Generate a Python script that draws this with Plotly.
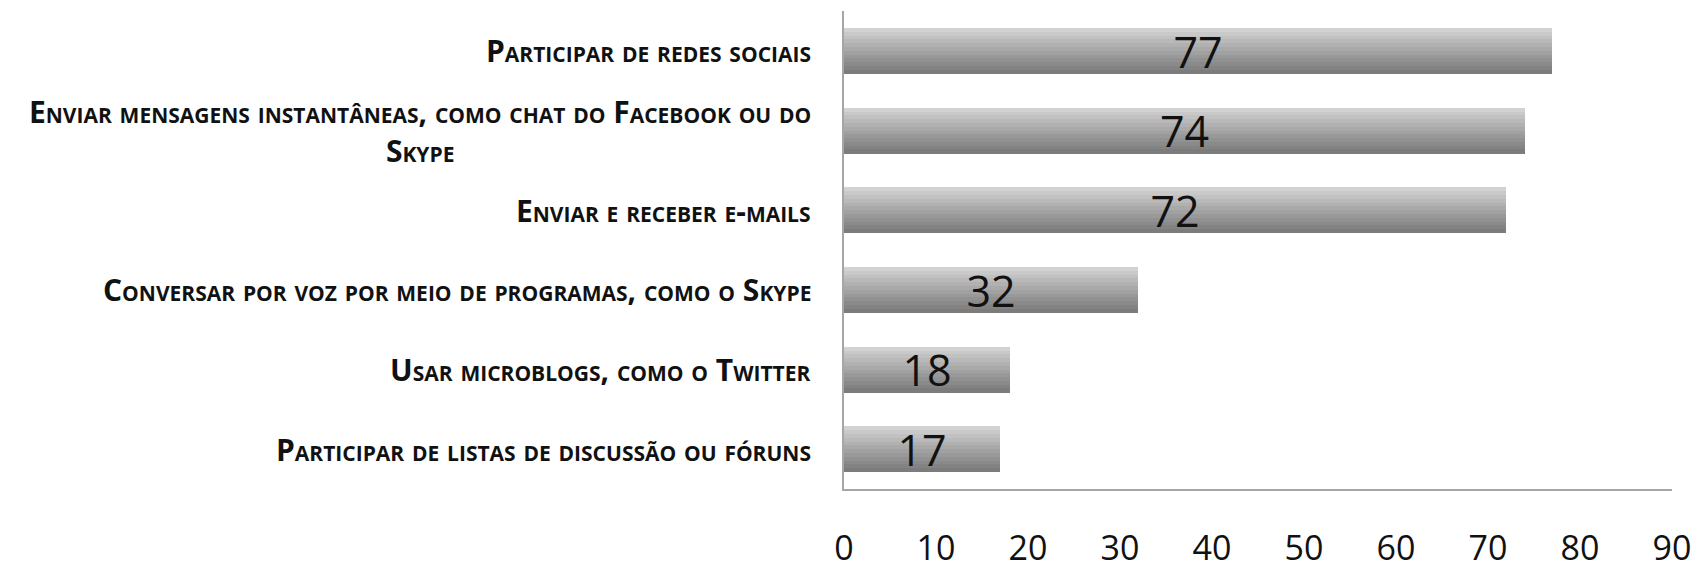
import plotly.graph_objects as go

# Data (top to bottom)
categories = [
    "Participar de redes sociais",
    "Enviar mensagens instantâneas, como chat do Facebook ou do<br>Skype",
    "Enviar e receber e-mails",
    "Conversar por voz por meio de programas, como o Skype",
    "Usar microblogs, como o Twitter",
    "Participar de listas de discussão ou fóruns",
]
values = [77, 74, 72, 32, 18, 17]
x_ticks = [0, 10, 20, 30, 40, 50, 60, 70, 80, 90]

bar_width = 0.57
# light top -> dark bottom, to imitate the gradient fill
shades = ["#d2d2d2", "#c9c9c9", "#c1c1c1", "#b9b9b9", "#b1b1b1", "#a9a9a9",
          "#a1a1a1", "#999999", "#919191", "#8a8a8a", "#838383", "#7c7c7c"]
strip = bar_width / len(shades)

fig = go.Figure()

for k, col in enumerate(shades):
    fig.add_trace(go.Bar(
        x=values, y=categories, orientation="h",
        width=strip * 1.1, offset=-bar_width / 2 + k * strip,
        marker=dict(color=col, line=dict(width=0)),
        hoverinfo="skip", showlegend=False,
    ))

# value labels
fig.add_trace(go.Bar(
    x=values, y=categories, orientation="h",
    width=bar_width,
    marker=dict(color="rgba(0,0,0,0)", line=dict(width=0)),
    text=[str(v) for v in values],
    textposition="inside", insidetextanchor="middle",
    textangle=0, constraintext="none",
    textfont=dict(family="Open Sans", size=43, color="#111111"),
    showlegend=False,
))

# category labels
for cat in categories:
    fig.add_annotation(
        x=0, xref="paper", y=cat, yref="y",
        text=cat, showarrow=False,
        xanchor="right", yanchor="middle", align="center", xshift=-31,
        font=dict(family="Open Sans", size=30,
                  color="#111111", weight="bold", variant="small-caps"),
    )

# page body adds an 8px offset, so the figure is sized to fit the window
fig.update_layout(
    width=1694, height=564,
    margin=dict(l=836, r=30, t=3, b=83, autoexpand=False),
    plot_bgcolor="white", paper_bgcolor="white",
    barmode="overlay", bargap=0,
    showlegend=False,
)

fig.update_xaxes(
    range=[0, 90], tickvals=x_ticks, showgrid=False, zeroline=False,
    showline=True, linecolor="#a6a6a6", linewidth=2,
    ticks="", ticklabelstandoff=28, automargin=False,
    tickfont=dict(family="Open Sans", size=34, color="#111111"),
)
fig.update_yaxes(
    autorange="reversed", showticklabels=False, showgrid=False,
    zeroline=False, showline=True, linecolor="#a6a6a6", linewidth=2,
    ticks="", automargin=False,
)

fig.write_html("out.html")
